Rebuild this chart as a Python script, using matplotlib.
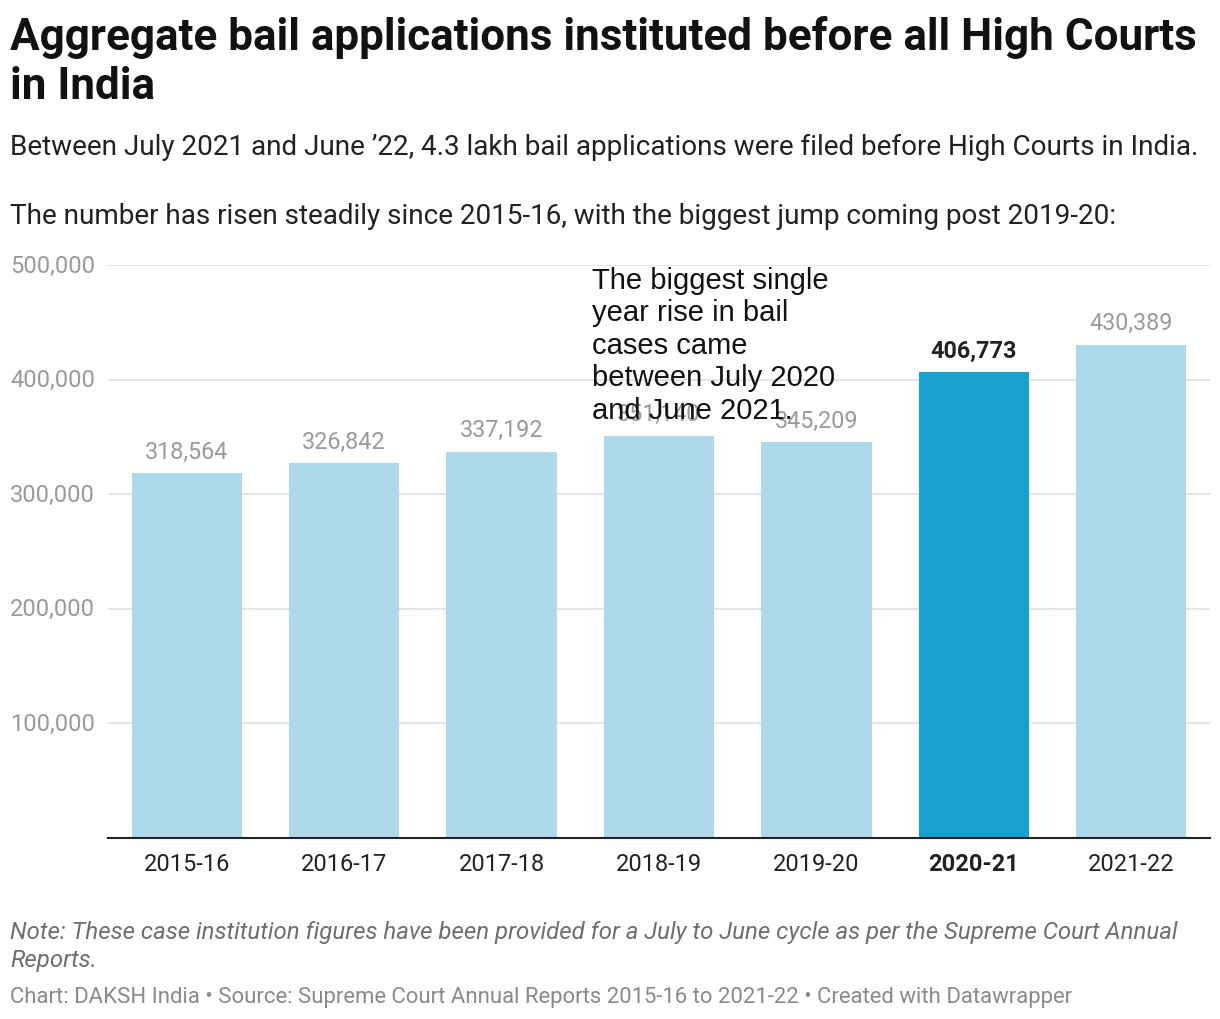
import matplotlib.pyplot as plt
from matplotlib.transforms import blended_transform_factory

plt.rcParams['font.family'] = ['Roboto', 'DejaVu Sans']

years = ['2015-16', '2016-17', '2017-18', '2018-19', '2019-20', '2020-21', '2021-22']
applications = [318564, 326842, 337192, 351140, 345209, 406773, 430389]
highlight = '2020-21'
yticks = [100000, 200000, 300000, 400000, 500000]

fig = plt.figure(figsize=(12.2, 10.2), dpi=100)
ax = fig.add_axes([108 / 1220, 1 - 839 / 1020, 1102 / 1220, 573 / 1020])

colors = ['#18a1cd' if y == highlight else '#add9ea' for y in years]
x = range(len(years))
ax.bar(x, applications, width=0.7, color=colors, zorder=2)

ax.set_xlim(-0.5, len(years) - 0.5)
ax.set_ylim(0, 500000)
ax.set_yticks(yticks)
ax.set_yticklabels([])
ax.grid(axis='y', color='#e0e0e0', linewidth=1.2, zorder=0)
ax.tick_params(axis='y', length=0)
for spine in ['top', 'right', 'left']:
    ax.spines[spine].set_visible(False)
ax.spines['bottom'].set_color('#222222')
ax.spines['bottom'].set_linewidth(1.5)

# y labels sit at left edge of figure
ytrans = blended_transform_factory(fig.transFigure, ax.transData)
for v in yticks:
    ax.text(10 / 1220, v, f'{v:,}', transform=ytrans,
            ha='left', va='center', fontsize=17, color='#9a9a9a')

ax.set_xticks(list(x))
ax.set_xticklabels(years, fontsize=17, color='#222222')
ax.tick_params(axis='x', length=0, pad=10)
for lbl in ax.get_xticklabels():
    if lbl.get_text() == highlight:
        lbl.set_fontweight('bold')

for i, (y, v) in enumerate(zip(years, applications)):
    if y == highlight:
        ax.text(i, v + 9000, f'{v:,}', ha='center', va='bottom', fontsize=16.8,
                fontweight='bold', color='#222222')
    else:
        ax.text(i, v + 9000, f'{v:,}', ha='center', va='bottom', fontsize=16.8,
                color='#9a9a9a')

# annotation
fig.text(592 / 1220, 1 - 267 / 1020,
         'The biggest single\nyear rise in bail\ncases came\nbetween July 2020\nand June 2021.',
         ha='left', va='top', fontsize=21, family=['Liberation Sans', 'DejaVu Sans'],
         color='#111111', linespacing=1.2)

# titles
fig.text(10 / 1220, 1 - 16 / 1020,
         'Aggregate bail applications instituted before all High Courts\nin India',
         ha='left', va='top', fontsize=31.7, fontweight='bold', color='#111111',
         linespacing=1.22)
fig.text(10 / 1220, 1 - 147 / 1020,
         'Between July 2021 and June \u201922, 4.3 lakh bail applications were filed before High Courts in India.',
         ha='left', va='center', fontsize=20.1, color='#222222')
fig.text(10 / 1220, 1 - 216 / 1020,
         'The number has risen steadily since 2015-16, with the biggest jump coming post 2019-20:',
         ha='left', va='center', fontsize=20.1, color='#222222')

# notes
fig.text(10 / 1220, 1 - 921 / 1020,
         'Note: These case institution figures have been provided for a July to June cycle as per the Supreme Court Annual\nReports.',
         ha='left', va='top', fontsize=17.3, style='italic', color='#6e6e6e', linespacing=1.28)
fig.text(10 / 1220, 1 - 998 / 1020,
         'Chart: DAKSH India \u2022 Source: Supreme Court Annual Reports 2015-16 to 2021-22 \u2022 Created with Datawrapper',
         ha='left', va='center', fontsize=15.9, color='#8a8a8a')

fig.savefig('out.png', dpi=100, facecolor='white')
